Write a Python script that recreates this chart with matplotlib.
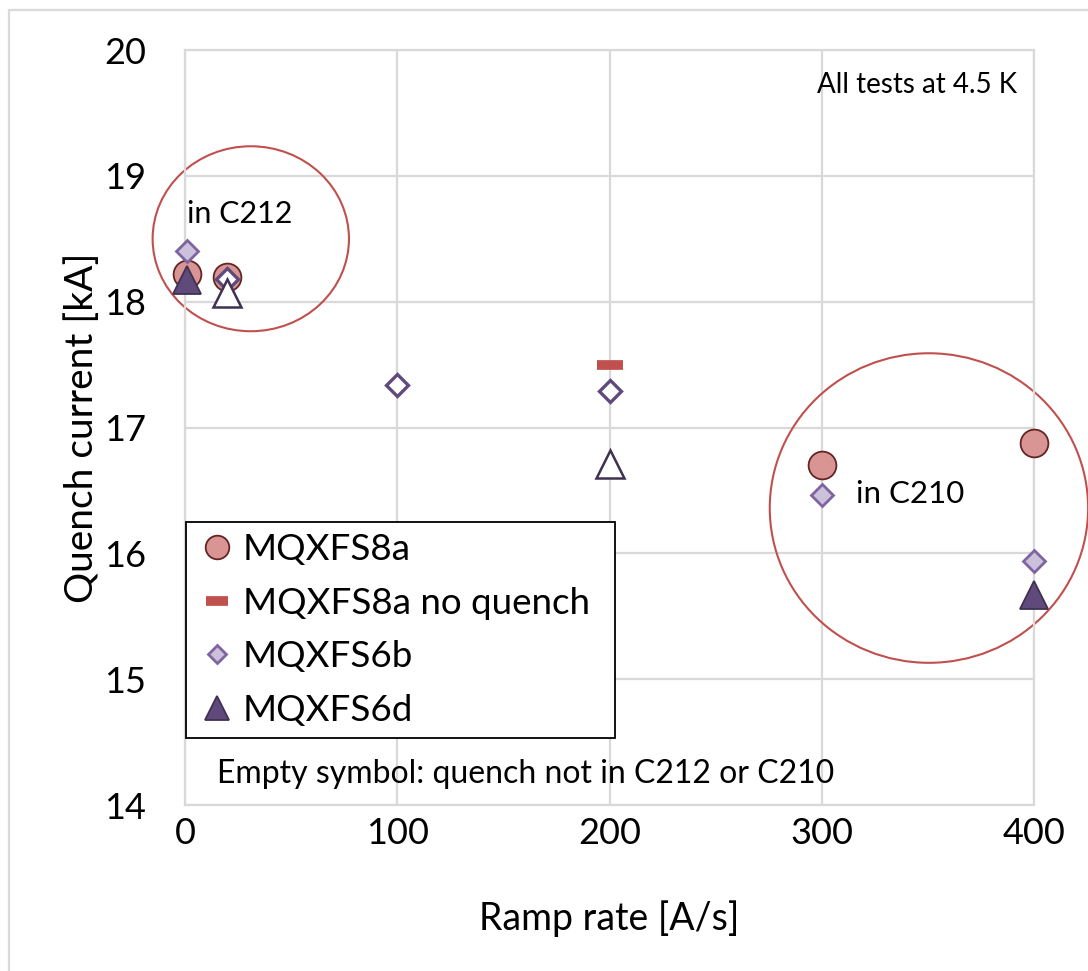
import matplotlib
matplotlib.use("Agg")
from matplotlib import pyplot as plt
from matplotlib.patches import Ellipse, Rectangle

plt.rcParams['font.family'] = ['Lato', 'DejaVu Sans']

# quench current [kA] vs ramp rate [A/s]
ramp_8a = [1, 20, 300, 400]
iq_8a = [18.22, 18.20, 16.70, 16.88]

ramp_8a_nq = [200]
iq_8a_nq = [17.50]

ramp_6b = [1, 300, 400]
iq_6b = [18.40, 16.46, 15.94]
ramp_6b_empty = [20, 100, 200]
iq_6b_empty = [18.18, 17.34, 17.29]

ramp_6d = [1, 400]
iq_6d = [18.17, 15.67]
ramp_6d_empty = [20, 200]
iq_6d_empty = [18.07, 16.71]

x_ticks = [0, 100, 200, 300, 400]
y_ticks = [14, 15, 16, 17, 18, 19, 20]

GRID = '#D9D9D9'

fig = plt.figure(figsize=(10.88, 9.71), dpi=100)
ax = fig.add_axes([185 / 1088, 1 - 805 / 971, 849 / 1088, 755 / 971])

# outer chart frame
fig.patches.append(Rectangle((9 / 1088, -0.2), 1.5, 1.2 - 10 / 971, transform=fig.transFigure,
                             fill=False, edgecolor=GRID, linewidth=1.6, zorder=0))

ax.plot(ramp_8a, iq_8a, 'o', ms=20, mfc='#D99594', mec='#632523', mew=1.3,
        label='MQXFS8a', zorder=3, clip_on=False)
ax.plot(ramp_8a_nq, iq_8a_nq, '_', ms=19, mec='#C0504D', mew=7,
        label='MQXFS8a no quench', zorder=3, clip_on=False)
ax.plot(ramp_6b, iq_6b, 'D', ms=11, mfc='#CCC1DA', mec='#8064A2', mew=2,
        label='MQXFS6b', zorder=4, clip_on=False)
ax.plot(ramp_6b_empty, iq_6b_empty, 'D', ms=11, mfc='white', mec='#604A7B', mew=2.4,
        zorder=4, clip_on=False)
ax.plot(ramp_6d, iq_6d, '^', ms=20, mfc='#604A7B', mec='#3F3151', mew=1.3,
        label='MQXFS6d', zorder=5, clip_on=False)
ax.plot(ramp_6d_empty, iq_6d_empty, '^', ms=20, mfc='white', mec='#3F3151', mew=1.8,
        zorder=5, clip_on=False)

# circled regions
ax.add_patch(Ellipse((31, 18.5), 92.5, 1.47, fill=False, edgecolor='#C0504D',
                     linewidth=1.5, zorder=2, clip_on=False))
ax.add_patch(Ellipse((350.5, 16.36), 150, 2.46, fill=False, edgecolor='#C0504D',
                     linewidth=1.5, zorder=2, clip_on=False))

ax.text(1, 18.7, 'in C212', fontsize=22, ha='left', va='center')
ax.text(316, 16.47, 'in C210', fontsize=22.5, ha='left', va='center')
ax.text(392, 19.72, 'All tests at 4.5 K', fontsize=20, ha='right', va='center')
ax.text(15, 14.25, 'Empty symbol: quench not in C212 or C210', fontsize=23,
        ha='left', va='center')

ax.set_xlim(0, 400)
ax.set_ylim(14, 20)
ax.set_xticks(x_ticks)
ax.set_yticks(y_ticks)
ax.tick_params(axis='both', length=0, labelsize=26)
ax.tick_params(axis='y', pad=28)
ax.tick_params(axis='x', pad=9)
ax.grid(True, color=GRID, linewidth=1.6)
ax.set_axisbelow(True)
for s in ax.spines.values():
    s.set_color(GRID)
    s.set_linewidth(1.6)

ax.set_xlabel('Ramp rate [A/s]', fontsize=27, labelpad=36)
ax.set_ylabel('Quench current [kA]', fontsize=28, labelpad=3)

leg = ax.legend(loc='upper left', bbox_to_anchor=(0.001, 0.375 - 0.286, 0.505, 0.286),
                mode='expand', borderaxespad=0,
                fontsize=26.5, frameon=True, fancybox=False, framealpha=1,
                edgecolor='black', handletextpad=0.15, handlelength=1.1,
                labelspacing=0.56, borderpad=0.3, markerscale=0.85)
leg.get_frame().set_linewidth(1.3)
leg.set_zorder(6)

fig.savefig('out.png', dpi=100)
